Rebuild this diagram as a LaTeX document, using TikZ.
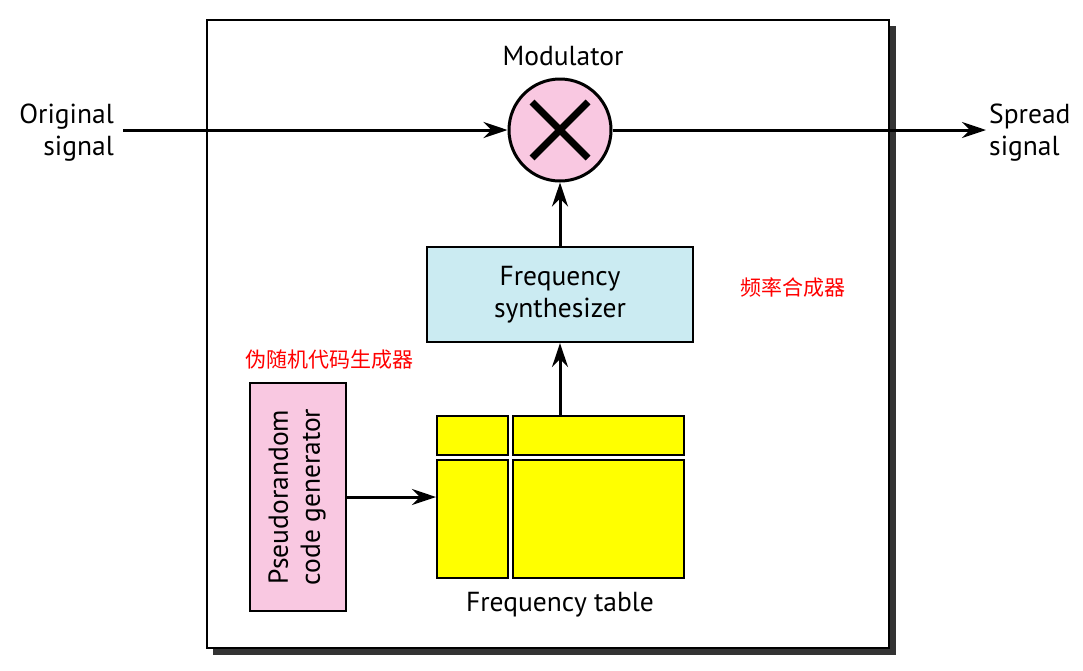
\documentclass[tikz,border=0pt]{standalone}
\usepackage{fontspec}
\setmainfont{PT Sans}
\newfontfamily\cjk{Noto Sans CJK SC}
\usetikzlibrary{arrows.meta}
\definecolor{modpink}{HTML}{F9C8E1}
\definecolor{synblue}{HTML}{CBEBF2}
\definecolor{tabyellow}{HTML}{FFFF00}
\definecolor{shadowgray}{HTML}{333333}
\begin{document}
\begin{tikzpicture}[x=1pt,y=-1pt,
  lbl/.style={font=\fontsize{27.5}{32}\selectfont, inner sep=0pt},
  cn/.style={font=\cjk\fontsize{21}{24}\selectfont, text=red, inner sep=0pt},
  conn/.style={line width=3pt, -{Stealth[length=24pt,width=16pt,inset=8pt]}},
  boxline/.style={draw=black, line width=2.2pt},
  cell/.style={boxline, fill=tabyellow, line width=2pt}]
\useasboundingbox (0,0) rectangle (1083,670);
% frame with shadow
\fill[shadowgray] (213,26) rectangle (896,655);
\draw[line width=2.5pt, fill=white] (207,20) rectangle (889,648);
% modulator
\node[circle, draw=black, line width=3pt, fill=modpink, minimum size=102pt, inner sep=0pt] (mod) at (560,130) {};
\draw[line width=7pt] (532,102) -- (588,158) (588,102) -- (532,158);
\node[lbl] (modlbl) at (563,56) {Modulator};
% original / spread
\node[lbl, align=right, anchor=east] (orig) at (114,133) {Original\\signal};
\node[lbl, align=left, anchor=west] (spread) at (989,133) {Spread\\signal};
\coordinate (inL) at (123,130);
\coordinate (outR) at (986,130);
\draw[conn] (inL) -- (mod.west);
\draw[conn] (mod.east) -- (outR);
% synthesizer
\node[boxline, fill=synblue, minimum width=266pt, minimum height=95pt, inner sep=0pt, align=center, font=\fontsize{27.5}{32}\selectfont] (syn) at (560,294.5) {Frequency\\synthesizer};
\draw[conn] (syn.north) -- (mod.south);
% frequency table
\node[cell, minimum width=71pt, minimum height=39pt, inner sep=0pt] (t11) at (472.5,435.5) {};
\node[cell, minimum width=171pt, minimum height=39pt, inner sep=0pt] (t12) at (598.5,435.5) {};
\node[cell, minimum width=71pt, minimum height=118pt, inner sep=0pt] (t21) at (472.5,519) {};
\node[cell, minimum width=171pt, minimum height=118pt, inner sep=0pt] (t22) at (598.5,519) {};
\node[lbl] (tablbl) at (560,605) {Frequency table};
\coordinate (ttop) at (560,416);
\draw[conn] (ttop) -- (syn.south);
% pseudorandom
\node[boxline, fill=modpink, minimum width=96pt, minimum height=228pt, inner sep=0pt] (prn) at (298,497) {};
\node[lbl, rotate=90, align=center] (prntxt) at (297,497) {Pseudorandom\\code generator};
\draw[conn] (prn.east |- 0,497) -- (t21.west |- 0,497);
% chinese labels
\node[cn] (cn1) at (329,360) {伪随机代码生成器};
\node[cn] (cn2) at (793,288) {频率合成器};
\end{tikzpicture}
\end{document}
